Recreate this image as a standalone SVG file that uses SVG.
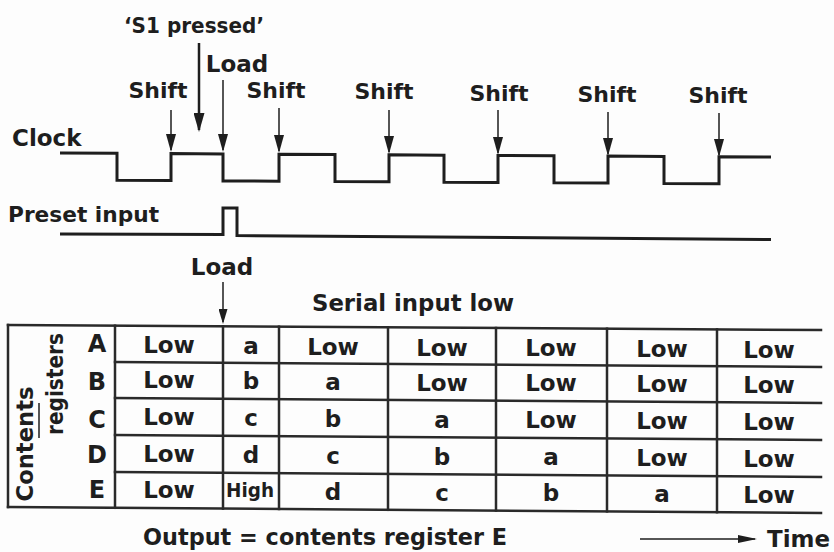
<svg xmlns="http://www.w3.org/2000/svg" width="834" height="552" viewBox="0 0 834 552">
<style>
.t{font-family:"DejaVu Sans","Liberation Sans",sans-serif;font-weight:bold;fill:#1e1e1e;font-size:22px}
.m{text-anchor:middle}
.c{font-size:23px;text-anchor:middle}
.w{fill:none;stroke:#1e1e1e;stroke-width:3;stroke-linejoin:miter}
.g{fill:none;stroke:#2a2a2a;stroke-width:2.5;stroke-linecap:square}
.a{fill:none;stroke:#1e1e1e;stroke-width:1.5}
</style>
<defs>
<marker id="ah" viewBox="0 0 18 10" markerWidth="18" markerHeight="10" refX="16" refY="5" orient="auto" markerUnits="userSpaceOnUse"><path d="M0,0 L18,5 L0,10 z" fill="#1e1e1e"/></marker>
<marker id="ahb" viewBox="0 0 19 11" markerWidth="19" markerHeight="11" refX="17" refY="5.5" orient="auto" markerUnits="userSpaceOnUse"><path d="M0,0 L19,5.5 L0,11 z" fill="#1e1e1e"/></marker>
<marker id="ahs" viewBox="0 0 15 9" markerWidth="15" markerHeight="9" refX="13" refY="4.5" orient="auto" markerUnits="userSpaceOnUse"><path d="M0,0 L15,4.5 L0,9 z" fill="#1e1e1e"/></marker>
<marker id="aht" viewBox="0 0 19 8" markerWidth="19" markerHeight="8" refX="17" refY="4" orient="auto" markerUnits="userSpaceOnUse"><path d="M0,0 L19,4 L0,8 z" fill="#1e1e1e"/></marker>
</defs>
<rect width="834" height="552" fill="#fdfdfd"/>

<g id="labels-top">
<text class="t m" x="194" y="33" textLength="140" lengthAdjust="spacingAndGlyphs">‘S1 pressed’</text>
<text class="t c" x="237" y="72">Load</text>
<text class="t m" x="158" y="98">Shift</text>
<text class="t m" x="276" y="98">Shift</text>
<text class="t m" x="384" y="99">Shift</text>
<text class="t m" x="499" y="101">Shift</text>
<text class="t m" x="607" y="102">Shift</text>
<text class="t m" x="718" y="103">Shift</text>
</g>

<g id="clock">
<text class="t" x="12" y="146" style="font-size:23px">Clock</text>
<polyline class="w" points="60,153 117,153.3 117,180.3 171,180.6 171,153.6 223,153.9 223,180.9 279,181.2 279,154.2 335,154.5 335,181.5 389,181.8 389,154.8 444,155.2 444,182.2 498,182.4 498,155.4 554,155.8 554,182.8 608,183.1 608,156.1 664,156.4 664,183.4 719,183.7 719,156.7 771,157"/>
</g>

<g id="preset">
<text class="t" x="8" y="222" textLength="151" lengthAdjust="spacingAndGlyphs">Preset input</text>
<polyline class="w" points="60,234 223,234.5 223,208 237,208 237,235.5 771,239.5"/>
</g>

<g id="connectors">
<line class="a" x1="199" y1="43" x2="199" y2="130" style="stroke-width:2.5" marker-end="url(#ahb)"/>
<line class="a" x1="223" y1="80" x2="223" y2="150" marker-end="url(#ah)"/>
<line class="a" x1="171" y1="110" x2="171" y2="150" marker-end="url(#ah)"/>
<line class="a" x1="279" y1="108" x2="279" y2="151" marker-end="url(#ah)"/>
<line class="a" x1="389" y1="110" x2="389" y2="152" marker-end="url(#ah)"/>
<line class="a" x1="498" y1="110" x2="498" y2="153" marker-end="url(#ah)"/>
<line class="a" x1="608" y1="112" x2="608" y2="154" marker-end="url(#ah)"/>
<line class="a" x1="719" y1="113" x2="719" y2="155" marker-end="url(#ah)"/>
<line class="a" x1="223" y1="282" x2="223" y2="322" marker-end="url(#ahs)"/>
<line class="a" x1="640" y1="539" x2="755" y2="539" marker-end="url(#aht)"/>
</g>

<g id="labels-mid">
<text class="t c" x="222" y="275">Load</text>
<text class="t c" x="413" y="311" textLength="202" lengthAdjust="spacingAndGlyphs">Serial input low</text>
</g>

<g id="table">
<g id="grid">
<line class="g" x1="8" y1="325" x2="821" y2="330"/>
<line class="g" x1="115" y1="362" x2="821" y2="367"/>
<line class="g" x1="115" y1="398" x2="821" y2="403"/>
<line class="g" x1="115" y1="435" x2="821" y2="440"/>
<line class="g" x1="115" y1="472" x2="821" y2="477"/>
<line class="g" x1="8" y1="507" x2="821" y2="513"/>
<line class="g" x1="8" y1="325" x2="8" y2="507"/>
<line class="g" x1="115" y1="325.7" x2="115" y2="507.8"/>
<line class="g" x1="223" y1="326.3" x2="223" y2="508.6"/>
<line class="g" x1="279" y1="326.7" x2="279" y2="509"/>
<line class="g" x1="388" y1="327.3" x2="388" y2="509.8"/>
<line class="g" x1="496" y1="328" x2="496" y2="510.6"/>
<line class="g" x1="607" y1="328.7" x2="607" y2="511.4"/>
<line class="g" x1="717" y1="329.4" x2="717" y2="512.2"/>
</g>
<g id="row-labels">
<text class="t c" transform="translate(33,444) rotate(-90)" textLength="115" lengthAdjust="spacingAndGlyphs">Contents</text>
<text class="t c" transform="translate(63,384) rotate(-90)" textLength="102" lengthAdjust="spacingAndGlyphs">registers</text>
<line class="a" x1="39" y1="403" x2="39" y2="438"/>
<text class="t c" x="97" y="352" style="font-size:24px">A</text>
<text class="t c" x="97" y="390" style="font-size:24px">B</text>
<text class="t c" x="97" y="428" style="font-size:24px">C</text>
<text class="t c" x="97" y="463" style="font-size:24px">D</text>
<text class="t c" x="97" y="498" style="font-size:24px">E</text>
</g>
<g id="row-A">
<text class="t c" x="169" y="353">Low</text>
<text class="t c" x="251" y="353.7">a</text>
<text class="t c" x="333" y="354.5">Low</text>
<text class="t c" x="442" y="355.5">Low</text>
<text class="t c" x="551" y="356.4">Low</text>
<text class="t c" x="662" y="357.4">Low</text>
<text class="t c" x="769" y="358.4">Low</text>
</g>
<g id="row-B">
<text class="t c" x="169" y="388">Low</text>
<text class="t c" x="251" y="388.7">b</text>
<text class="t c" x="333" y="389.5">a</text>
<text class="t c" x="442" y="390.5">Low</text>
<text class="t c" x="551" y="391.4">Low</text>
<text class="t c" x="662" y="392.4">Low</text>
<text class="t c" x="769" y="393.4">Low</text>
</g>
<g id="row-C">
<text class="t c" x="169" y="425">Low</text>
<text class="t c" x="251" y="425.7">c</text>
<text class="t c" x="333" y="426.5">b</text>
<text class="t c" x="442" y="427.5">a</text>
<text class="t c" x="551" y="428.4">Low</text>
<text class="t c" x="662" y="429.4">Low</text>
<text class="t c" x="769" y="430.4">Low</text>
</g>
<g id="row-D">
<text class="t c" x="169" y="462">Low</text>
<text class="t c" x="251" y="462.7">d</text>
<text class="t c" x="333" y="463.5">c</text>
<text class="t c" x="442" y="464.5">b</text>
<text class="t c" x="551" y="465.4">a</text>
<text class="t c" x="662" y="466.4">Low</text>
<text class="t c" x="769" y="467.4">Low</text>
</g>
<g id="row-E">
<text class="t c" x="169" y="498">Low</text>
<text class="t c" x="250" y="496.5" style="font-size:19px" textLength="48" lengthAdjust="spacingAndGlyphs">High</text>
<text class="t c" x="333" y="499.5">d</text>
<text class="t c" x="442" y="500.5">c</text>
<text class="t c" x="551" y="501.4">b</text>
<text class="t c" x="662" y="502.4">a</text>
<text class="t c" x="769" y="503.4">Low</text>
</g>
</g>

<g id="labels-bottom">
<text class="t" x="143" y="545" style="font-size:23px" textLength="364" lengthAdjust="spacingAndGlyphs">Output = contents register E</text>
<text class="t" x="767" y="547" style="font-size:23px" textLength="63" lengthAdjust="spacingAndGlyphs">Time</text>
</g>
</svg>
